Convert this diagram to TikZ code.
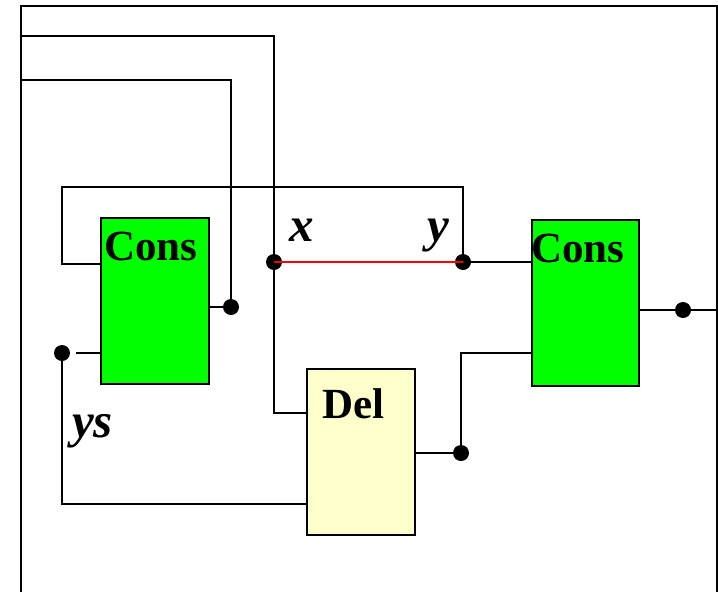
\documentclass[tikz,border=0pt]{standalone}
\usepackage{fontspec}
\setmainfont{Liberation Serif}
\definecolor{consgreen}{HTML}{00FF00}
\definecolor{delyellow}{HTML}{FFFFCC}
\begin{document}
\begin{tikzpicture}[x=1pt,y=-1pt,
  wire/.style={line width=2.2pt},
  frame/.style={line width=2.6pt},
  gbox/.style={draw, line width=2.2pt, fill=consgreen, minimum width=108pt, minimum height=166pt, inner sep=0pt},
  ybox/.style={draw, line width=2.2pt, fill=delyellow, minimum width=108pt, minimum height=166pt, inner sep=0pt},
  dot/.style={circle, fill=black, minimum size=16pt, inner sep=0pt},
  blabel/.style={font=\fontsize{43}{43}\selectfont\bfseries, inner sep=0pt},
  ilabel/.style={font=\fontsize{49}{49}\selectfont\bfseries\itshape, inner sep=0pt}]
\useasboundingbox (0,0) rectangle (718,592);
% frame
\coordinate (fbl) at (21,592);
\coordinate (ftl) at (21,6);
\coordinate (ftr) at (717,6);
\coordinate (fbr) at (717,592);
\draw[frame] (fbl) -- (ftl) -- (ftr) -- (fbr);
% boxes
\node[gbox] (c1) at (155,301) {};
\node[gbox, minimum width=107pt] (c2) at (585.5,303) {};
\node[ybox] (del) at (361,452) {};
\node[blabel, anchor=base west] (t1) at (104,260) {Cons};
\node[blabel, anchor=base west] (t2) at (531,262) {Cons};
\node[blabel, anchor=base west] (t3) at (322,418) {Del};
% labels
\node[ilabel, anchor=base west] (lx) at (289,241) {x};
\node[ilabel, anchor=base west] (ly) at (427,241) {y};
\node[ilabel, anchor=base west] (lys) at (72,437) {ys};
% dots
\node[dot] (dx) at (274,262) {};
\node[dot] (dy) at (463,262) {};
\node[dot] (d1) at (231,307) {};
\node[dot] (dys) at (62,353) {};
\node[dot] (dd) at (461,453) {};
\node[dot] (dout) at (683,310) {};
% coordinates
\coordinate (in1) at (21,36);
\coordinate (in2) at (21,80);
\coordinate (delin) at (307,413);
\coordinate (delin2) at (307,504);
\coordinate (fbcorner) at (62,187);
\coordinate (c1in1) at (101,264);
\coordinate (c2in2) at (532,353);
\coordinate (outend) at (717,310);
% wires
\draw[wire] (in1) -| (dx.center);
\draw[wire] (dx.center) |- (delin);
\draw[wire] (in2) -| (d1.center);
\draw[wire] (c1.east |- d1) -- (d1.center);
\draw[wire] (c1in1) -| (fbcorner) -| (dy.center);
\draw[wire, red] (dx.center) -- (dy.center);
\draw[wire] (dy.center) -- (c2.west |- dy);
\draw[wire] (c2.east |- dout) -- (outend);
\draw[wire] (del.east |- dd) -- (dd.center);
\draw[wire] (dd.center) |- (c2in2);
\draw[wire] ([xshift=6pt]dys.east) -- (c1.west |- dys);
\draw[wire] (dys.center) |- (delin2);
\end{tikzpicture}
\end{document}
